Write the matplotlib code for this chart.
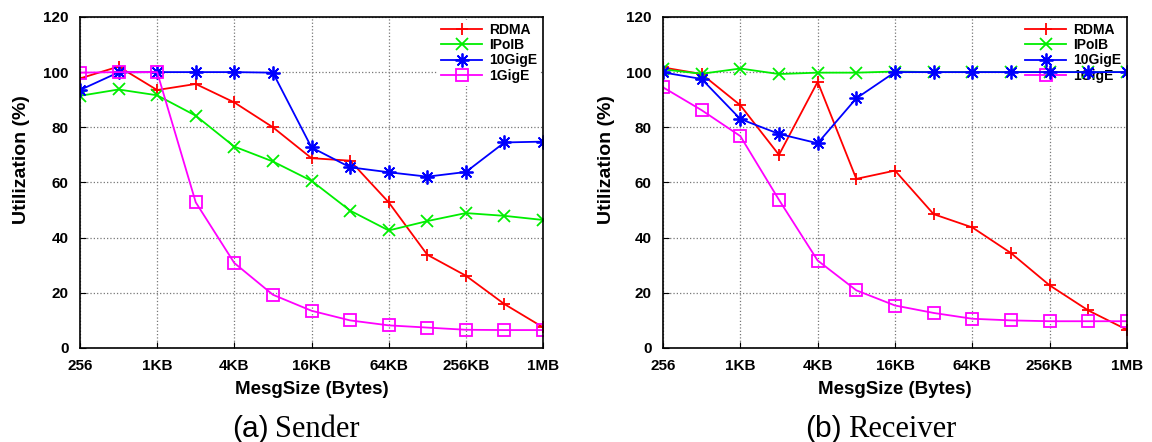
import numpy as np
import matplotlib.pyplot as plt

sizes = ['256', '512', '1KB', '2KB', '4KB', '8KB', '16KB', '32KB', '64KB', '128KB', '256KB', '512KB', '1MB']

# sender side utilization (%)
snd_rdma = [97.7, 102, 93.5, 95.7, 89, 80, 68.8, 67.9, 52.8, 33.8, 26.2, 15.9, 7.5]
snd_ipoib = [91.4, 93.7, 91.6, 84.2, 73, 67.6, 60.6, 49.8, 42.6, 46, 48.9, 47.9, 46.4]
snd_10g = [93.5, 99.9, 100, 100, 100, 99.8, 72.7, 65.5, 63.7, 62.1, 63.8, 74.5, 74.8]
snd_1g = [99.8, 100, 100, 52.8, 30.8, 19.3, 13.5, 10, 8.2, 7.4, 6.6, 6.5, 6.5]

# receiver side utilization (%)
rcv_rdma = [101.7, 99.3, 88, 70, 96.5, 61.3, 64.3, 48.5, 43.7, 34.4, 22.7, 13.6, 6.6]
rcv_ipoib = [101, 99.4, 101.3, 99.3, 99.8, 99.8, 100.2, 100, 100, 100, 100, 100, 100]
rcv_10g = [99.9, 97.5, 83, 77.6, 74.2, 90.5, 100, 100, 100, 100, 100, 100, 100]
rcv_1g = [94.5, 86.2, 76.8, 53.7, 31.7, 20.9, 15.4, 12.7, 10.6, 10, 9.7, 9.7, 9.7]

plt.rcParams['font.family'] = ['Liberation Sans', 'DejaVu Sans']

W, H = 1152, 442
fig = plt.figure(figsize=(W / 100, H / 100), dpi=100)
ax1 = fig.add_axes([0.0694, 0.2127, 0.402, 0.749])
ax2 = fig.add_axes([0.5755, 0.2127, 0.4028, 0.749])

x = np.arange(len(sizes))
star = (8, 2, 0)


def draw(ax, rdma, ipoib, g10, g1, ylab_x):
    ax.plot(x, rdma, color='#ff0000', marker='+', ms=9, mew=1.3, lw=1.3, label='RDMA')
    ax.plot(x, ipoib, color='#00ee00', marker='x', ms=8, mew=1.3, lw=1.3, label='IPoIB')
    ax.plot(x, g10, color='#0000ff', marker=star, ms=10, mew=1.3, lw=1.3, label='10GigE')
    ax.plot(x, g1, color='#ff00ff', marker='s', ms=9, mfc='none', mew=1.3, lw=1.3, label='1GigE')
    ax.set_xlim(0, 12)
    ax.set_ylim(0, 120)
    ax.set_xticks(x[::2])
    ax.set_xticklabels(sizes[::2], fontweight='bold', fontsize=11)
    ax.set_yticks(range(0, 121, 20))
    for t in ax.get_yticklabels():
        t.set_fontweight('bold')
        t.set_fontsize(11)
    ax.tick_params(direction='in', length=4, pad=8)
    ax.grid(True, linestyle=':', color='#777777', lw=0.9)
    ax.set_ylabel('Utilization (%)', fontweight='bold', fontsize=14)
    ax.yaxis.set_label_coords(ylab_x, 0.568)
    ax.set_xlabel('MesgSize (Bytes)', fontweight='bold', fontsize=13.5, labelpad=6)
    for s in ax.spines.values():
        s.set_linewidth(1.2)
    leg = ax.legend(loc='upper right', frameon=True, fancybox=False, edgecolor='none',
                    framealpha=1, prop={'weight': 'bold', 'size': 10},
                    handlelength=2.9, handletextpad=0.5, labelspacing=0.08,
                    borderpad=0.25, borderaxespad=0.2)
    leg.set_zorder(1.8)


draw(ax1, snd_rdma, snd_ipoib, snd_10g, snd_1g, -0.107)
draw(ax2, rcv_rdma, rcv_ipoib, rcv_10g, rcv_1g, -0.104)

# captions: sans letter, serif word
base = 1 - 437 / H
fig.text(232 / W, base, '(a)', fontsize=21.5, va='baseline', ha='left')
fig.text(275 / W, base, 'Sender', fontsize=22, va='baseline', ha='left', family=['Liberation Serif'])
fig.text(805 / W, base, '(b)', fontsize=21.5, va='baseline', ha='left')
fig.text(848 / W, base, 'Receiver', fontsize=22, va='baseline', ha='left', family=['Liberation Serif'])

fig.savefig('out.png', dpi=100)
